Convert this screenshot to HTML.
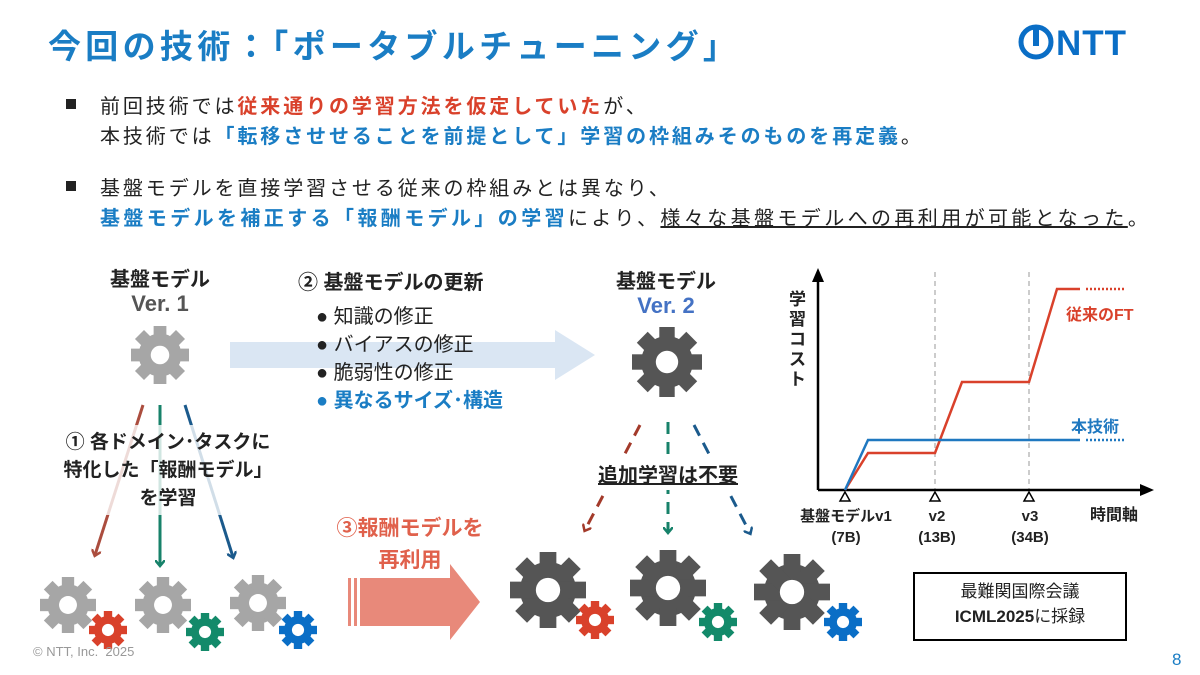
<!DOCTYPE html>
<html><head><meta charset="utf-8"><style>
body{margin:0;width:1200px;height:675px;background:#fff;overflow:hidden;font-family:"Liberation Sans","Noto Sans CJK JP",sans-serif;position:relative}
.t{position:absolute;white-space:nowrap}
.b{font-weight:bold}
.c{transform:translateX(-50%)}
.bl{font-size:20px;letter-spacing:2.9px;color:#222}
</style></head><body>
<svg width="1200" height="675" style="position:absolute;left:0;top:0">
<defs>
<symbol id="g" viewBox="-50 -50 100 100" overflow="visible">
<circle r="37"/>
<rect x="-11" y="-50" width="22" height="100"/>
<rect x="-11" y="-50" width="22" height="100" transform="rotate(45)"/>
<rect x="-11" y="-50" width="22" height="100" transform="rotate(90)"/>
<rect x="-11" y="-50" width="22" height="100" transform="rotate(135)"/>
<circle r="16" fill="#fff"/>
</symbol>
<marker id="ar" markerWidth="10" markerHeight="10" refX="5" refY="5" orient="auto" markerUnits="userSpaceOnUse"><path d="M0,0 L6,5 L0,10" fill="none" stroke="context-stroke" stroke-width="2.5"/></marker>
</defs>
<circle cx="1036" cy="42" r="15" fill="none" stroke="#0a6ec6" stroke-width="5"/>
<rect x="1033" y="26" width="6" height="20" fill="#0a6ec6"/>
<path d="M230,342 H555 V330 L595,355 L555,380 V368 H230 Z" fill="#dae6f3"/>
<use href="#g" x="131" y="326" width="58" height="58" fill="#a6a6a6"/>
<use href="#g" x="632" y="327" width="70" height="70" fill="#555"/>
<use href="#g" x="40" y="577" width="56" height="56" fill="#a6a6a6"/>
<use href="#g" x="135" y="577" width="56" height="56" fill="#a6a6a6"/>
<use href="#g" x="230" y="575" width="56" height="56" fill="#a6a6a6"/>
<use href="#g" x="89" y="611" width="38" height="38" fill="#d9412b"/>
<use href="#g" x="186" y="613" width="38" height="38" fill="#138a6a"/>
<use href="#g" x="279" y="611" width="38" height="38" fill="#0a6ec6"/>
<use href="#g" x="510" y="552" width="76" height="76" fill="#555"/>
<use href="#g" x="630" y="550" width="76" height="76" fill="#555"/>
<use href="#g" x="754" y="554" width="76" height="76" fill="#555"/>
<use href="#g" x="576" y="601" width="38" height="38" fill="#d9412b"/>
<use href="#g" x="699" y="603" width="38" height="38" fill="#138a6a"/>
<use href="#g" x="824" y="603" width="38" height="38" fill="#0a6ec6"/>
<g stroke-width="3" fill="none" marker-end="url(#ar)">
<line x1="143" y1="405" x2="95" y2="555" stroke="#a33a2a" opacity=".9"/>
<line x1="160" y1="405" x2="160" y2="565" stroke="#17826a"/>
<line x1="185" y1="405" x2="233" y2="557" stroke="#1b5a8c"/>
</g>
<rect x="55" y="425" width="225" height="90" fill="#fff" opacity=".8"/>
<g stroke-width="3" fill="none" stroke-dasharray="12,8" marker-end="url(#ar)">
<line x1="640" y1="425" x2="585" y2="530" stroke="#a33a2a"/>
<line x1="668" y1="422" x2="668" y2="532" stroke="#17826a"/>
<line x1="694" y1="425" x2="750" y2="533" stroke="#1b5a8c"/>
</g>
<rect x="580" y="455" width="175" height="35" fill="#fff"/>
<rect x="348" y="578" width="3" height="48" fill="#e8897a"/>
<rect x="354" y="578" width="3" height="48" fill="#e8897a"/>
<path d="M360,578 H450 V564 L480,602 L450,640 V626 H360 Z" fill="#e8897a"/>
<g stroke="#999" stroke-dasharray="5,4" stroke-width="1">
<line x1="935" y1="272" x2="935" y2="490"/><line x1="1029" y1="272" x2="1029" y2="490"/>
</g>
<g stroke="#000" stroke-width="2.5">
<line x1="818" y1="490" x2="818" y2="278"/><line x1="818" y1="490" x2="1142" y2="490"/>
</g>
<path d="M812,282 L818,268 L824,282 Z M1140,484 L1154,490 L1140,496 Z"/>
<polyline points="845,490 868,453 935,453 962,382 1029,382 1057,289 1080,289" fill="none" stroke="#d9412b" stroke-width="2.5"/>
<line x1="1086" y1="289" x2="1125" y2="289" stroke="#d9412b" stroke-width="2.5" stroke-dasharray="2,2"/>
<polyline points="845,490 868,440 1080,440" fill="none" stroke="#1f78c0" stroke-width="2.5"/>
<line x1="1086" y1="440" x2="1125" y2="440" stroke="#1f78c0" stroke-width="2.5" stroke-dasharray="2,2"/>
<g fill="#fff" stroke="#000" stroke-width="1.5">
<path d="M845,492 L840,501 L850,501 Z"/><path d="M935,492 L930,501 L940,501 Z"/><path d="M1029,492 L1024,501 L1034,501 Z"/>
</g>
<rect x="914" y="573" width="212" height="67" fill="#fff" stroke="#000" stroke-width="2"/>
</svg>

<div class="t b" style="left:48px;top:20px;font-size:33px;letter-spacing:4.3px;color:#1a7dc4">今回の技術：「ポータブルチューニング」</div>
<div class="t b" style="left:1056px;top:24px;font-size:35px;color:#0a6ec6;letter-spacing:1px">NTT</div>

<div class="t" style="left:66px;top:99px;width:10px;height:10px;background:#222"></div>
<div class="t bl" style="left:100px;top:90px">前回技術では<span class="b" style="color:#d9412b">従来通りの学習方法を仮定していた</span>が、</div>
<div class="t bl" style="left:100px;top:120px">本技術では<span class="b" style="color:#1a7dc4">「転移させせることを前提として」学習の枠組みそのものを再定義</span>。</div>
<div class="t" style="left:66px;top:181px;width:10px;height:10px;background:#222"></div>
<div class="t bl" style="left:100px;top:172px">基盤モデルを直接学習させる従来の枠組みとは異なり、</div>
<div class="t bl" style="left:100px;top:202px;letter-spacing:3.4px"><span class="b" style="color:#1a7dc4">基盤モデルを補正する「報酬モデル」の学習</span>により、<u>様々な基盤モデルへの再利用が可能となった</u>。</div>

<div class="t b c" style="left:160px;top:263px;font-size:20px;color:#222">基盤モデル</div>
<div class="t b c" style="left:160px;top:291px;font-size:22px;color:#555">Ver. 1</div>
<div class="t b" style="left:298px;top:266px;font-size:20px;color:#222">② 基盤モデルの更新</div>
<div class="t" style="left:316px;top:303px;font-size:20px;color:#222;line-height:28px">● 知識の修正<br>● バイアスの修正<br>● 脆弱性の修正<br><span class="b" style="color:#1a7dc4">● 異なるサイズ･構造</span></div>
<div class="t b c" style="left:666px;top:265px;font-size:20px;color:#222">基盤モデル</div>
<div class="t b c" style="left:666px;top:293px;font-size:22px;color:#4472c4">Ver. 2</div>

<div class="t b c" style="left:168px;top:429px;font-size:19px;color:#222;text-align:center;line-height:28px">① 各ドメイン･タスクに<br>特化した「報酬モデル」<br>を学習</div>
<div class="t b c" style="left:668px;top:459px;font-size:20px;color:#222;text-decoration:underline">追加学習は不要</div>
<div class="t b c" style="left:410px;top:513px;font-size:21px;color:#e0614c;text-align:center;line-height:32px">③報酬モデルを<br>再利用</div>

<div class="t b" style="left:789px;top:290px;font-size:17px;color:#222;width:18px;line-height:20px;white-space:normal">学習コスト</div>
<div class="t b" style="left:1066px;top:301px;font-size:16px;color:#d9412b">従来のFT</div>
<div class="t b" style="left:1071px;top:413px;font-size:16px;color:#1f78c0">本技術</div>
<div class="t b c" style="left:846px;top:506px;font-size:15px;color:#222;text-align:center;line-height:21px">基盤モデルv1<br>(7B)</div>
<div class="t b c" style="left:937px;top:506px;font-size:15px;color:#222;text-align:center;line-height:21px">v2<br>(13B)</div>
<div class="t b c" style="left:1030px;top:506px;font-size:15px;color:#222;text-align:center;line-height:21px">v3<br>(34B)</div>
<div class="t b" style="left:1090px;top:501px;font-size:16px;color:#222">時間軸</div>
<div class="t c" style="left:1020px;top:579px;font-size:17px;color:#222;text-align:center;line-height:25px">最難関国際会議<br><b>ICML2025</b>に採録</div>

<div class="t" style="left:33px;top:644px;font-size:13px;color:#999">© NTT, Inc.&nbsp; 2025</div>
<div class="t" style="left:1172px;top:650px;font-size:17px;color:#1a7dc4">8</div>
</body></html>
